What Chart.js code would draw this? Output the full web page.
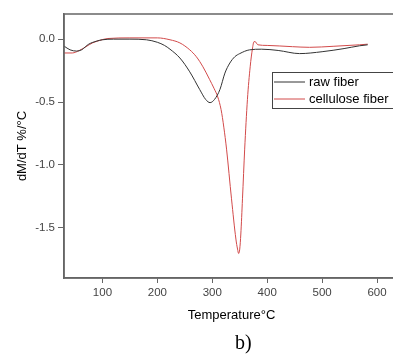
<!DOCTYPE html>
<html>
<head>
<meta charset="utf-8">
<script src="https://cdn.jsdelivr.net/npm/chart.js@4.4.1/dist/chart.umd.min.js"></script>
<style>
  html, body { margin: 0; padding: 0; background: #fff; overflow: hidden; width: 393px; height: 355px; }
  #wrap { position: relative; width: 405px; height: 355px; }
  #label { position: absolute; left: 235px; top: 332px; line-height: 20px; font-size: 20px; font-family: "Liberation Serif", "Times New Roman", serif; color: #000; }
</style>
</head>
<body>
<div id="wrap">
  <canvas id="dtgChart" width="405" height="355"></canvas>
  <div id="label">b)</div>
</div>
<script>
// raw fiber (black)
const rawTemp = [30, 41, 53, 62, 75, 90, 100, 120, 150, 180, 200, 213, 223, 241, 259, 277, 288, 296, 304, 314, 323, 332, 341, 350, 368, 390, 420, 459, 500, 540, 568, 583];
const rawRate = [-0.055, -0.085, -0.095, -0.085, -0.04, -0.015, -0.005, 0.0, 0.0, -0.005, -0.025, -0.05, -0.08, -0.15, -0.26, -0.40, -0.48, -0.505, -0.48, -0.40, -0.27, -0.19, -0.14, -0.115, -0.085, -0.08, -0.09, -0.115, -0.10, -0.075, -0.053, -0.045];

// cellulose fiber (red)
const celTemp = [30, 45, 58, 70, 82, 95, 110, 150, 200, 223, 241, 259, 271, 283, 295, 303, 310, 316, 321, 326, 335, 343, 346, 348, 350, 352, 355, 359, 364, 369, 373, 376, 378, 383, 400, 446, 477, 520, 568, 583];
const celRate = [-0.11, -0.11, -0.09, -0.06, -0.03, -0.01, 0.005, 0.01, 0.01, -0.005, -0.03, -0.085, -0.14, -0.22, -0.32, -0.39, -0.46, -0.56, -0.70, -0.875, -1.27, -1.59, -1.67, -1.705, -1.67, -1.55, -1.27, -0.875, -0.48, -0.22, -0.08, -0.02, -0.02, -0.045, -0.05, -0.06, -0.065, -0.057, -0.045, -0.04];

const seriesNames = ['raw fiber', 'cellulose fiber'];
const xTicks = [100, 200, 300, 400, 500, 600];
const yTicks = [0.0, -0.5, -1.0, -1.5];

const axisColor = '#666';
const sansFont = '"Liberation Sans", Arial, sans-serif';

// frame round the plot plus the boxed legend inside it
const frameLegend = {
    id: 'frameLegend',
    afterDraw(chart) {
        const { ctx, chartArea: a } = chart;
        ctx.save();
        ctx.strokeStyle = axisColor;
        ctx.lineWidth = 1.5;
        ctx.strokeRect(a.left, a.top, a.right - a.left, a.bottom - a.top);

        const bx = a.left + 208, by = a.top + 58, bw = 126, bh = 36;
        ctx.fillStyle = '#fff';
        ctx.fillRect(bx, by, bw, bh);
        ctx.strokeStyle = '#444';
        ctx.lineWidth = 1;
        ctx.strokeRect(bx + 0.5, by + 0.5, bw, bh);

        ctx.font = '13px ' + sansFont;
        ctx.textBaseline = 'middle';
        chart.data.datasets.forEach((ds, i) => {
            const y = by + 10 + i * 17;
            ctx.strokeStyle = ds.borderColor;
            ctx.beginPath();
            ctx.moveTo(bx + 2, y);
            ctx.lineTo(bx + 33, y);
            ctx.stroke();
            ctx.fillStyle = '#000';
            ctx.fillText(ds.label, bx + 37, y);
        });
        ctx.restore();
    }
};

new Chart(document.getElementById('dtgChart'), {
    type: 'line',
    data: {
        datasets: [{
            label: seriesNames[0],
            data: rawTemp.map((t, i) => ({ x: t, y: rawRate[i] })),
            borderColor: '#333',
            borderWidth: 1,
            pointRadius: 0,
            cubicInterpolationMode: 'monotone'
        }, {
            label: seriesNames[1],
            data: celTemp.map((t, i) => ({ x: t, y: celRate[i] })),
            borderColor: '#d24a4a',
            borderWidth: 1,
            pointRadius: 0,
            cubicInterpolationMode: 'monotone'
        }]
    },
    options: {
        responsive: false,
        animation: false,
        devicePixelRatio: 1,
        layout: { padding: { top: 14, right: 6, left: 0, bottom: 0 } },
        plugins: {
            legend: { display: false },
            tooltip: { enabled: false }
        },
        scales: {
            x: {
                type: 'linear',
                min: 30,
                max: 640,
                afterFit: (scale) => { scale.height = 77; },
                afterBuildTicks: (scale) => { scale.ticks = xTicks.map(v => ({ value: v })); },
                grid: { drawOnChartArea: false, drawTicks: true, tickLength: 5, color: axisColor },
                border: { color: axisColor, width: 1.5 },
                ticks: { color: '#444', font: { family: sansFont, size: 11.5 }, padding: 3, maxRotation: 0 },
                title: {
                    display: true,
                    text: 'Temperature°C',
                    color: '#000',
                    font: { family: sansFont, size: 13 },
                    padding: { top: 0, bottom: 32 }
                }
            },
            y: {
                min: -1.9,
                max: 0.2,
                afterFit: (scale) => { scale.width = 64; },
                afterBuildTicks: (scale) => { scale.ticks = yTicks.map(v => ({ value: v })); },
                grid: { drawOnChartArea: false, drawTicks: true, tickLength: 6, color: axisColor },
                border: { color: axisColor, width: 1.5 },
                ticks: {
                    color: '#444',
                    font: { family: sansFont, size: 11.5 },
                    padding: 3,
                    callback: (v) => Number(v).toFixed(1)
                },
                title: {
                    display: true,
                    text: 'dM/dT %/°C',
                    color: '#000',
                    font: { family: sansFont, size: 13 },
                    padding: { top: 15, bottom: 0 }
                }
            }
        }
    },
    plugins: [frameLegend]
});
</script>
</body>
</html>
